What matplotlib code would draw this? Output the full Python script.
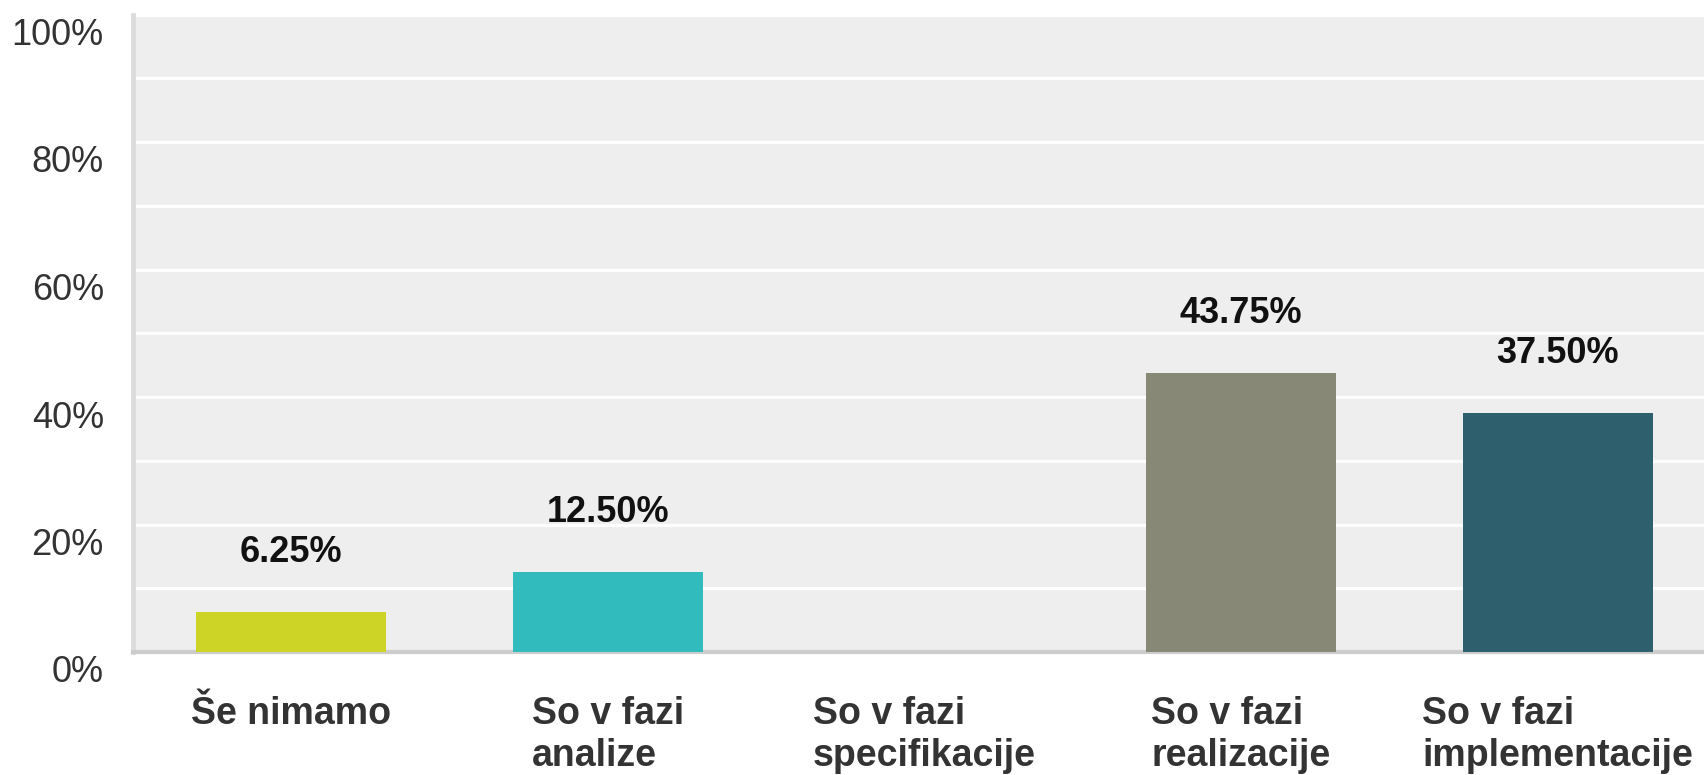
import matplotlib
matplotlib.use("Agg")
import matplotlib.pyplot as plt
from matplotlib.transforms import ScaledTranslation

categories = ["Še nimamo", "So v fazi\nanalize", "So v fazi\nspecifikacije",
              "So v fazi\nrealizacije", "So v fazi\nimplementacije"]
values = [6.25, 12.50, 0.0, 43.75, 37.50]
labels = ["6.25%", "12.50%", "", "43.75%", "37.50%"]
colors = ["#CED426", "#32BBBD", "#32BBBD", "#888877", "#2E5F6C"]
yticks = [0, 20, 40, 60, 80, 100]
ytick_labels = ["0%", "20%", "40%", "60%", "80%", "100%"]

plt.rcParams["font.family"] = ["Liberation Sans", "DejaVu Sans"]

W, H = 1704, 775
fig = plt.figure(figsize=(W / 100, H / 100), dpi=100)
# axes run past the right edge of the picture, like the reference
ax = fig.add_axes([133 / W, (H - 652) / H, (1716 - 133) / W, (652 - 14.5) / H])
ax.set_facecolor("#EEEEEE")

x = list(range(len(categories)))
bars = ax.bar(x, values, width=0.6, color=colors, zorder=3)
for b, lab in zip(bars, labels):
    if lab:
        ax.annotate(lab, (b.get_x() + b.get_width() / 2, b.get_height()),
                    xytext=(0, 43), textcoords="offset points", ha="center", va="center",
                    fontsize=26, fontweight="bold", color="#111111")

ax.set_xlim(-0.5, len(categories) - 0.5)
ax.set_ylim(0, 100)
ax.set_yticks(yticks)
ax.set_yticklabels(ytick_labels, fontsize=26, color="#333333")
ax.set_yticks(range(10, 100, 20), minor=True)
ax.grid(True, axis="y", which="both", color="white", linewidth=2.3, zorder=1)
ax.set_axisbelow(True)
ax.tick_params(axis="y", which="both", length=0, pad=21)
for t in ax.get_yticklabels():
    t.set_transform(t.get_transform() + ScaledTranslation(0, -17 / 100, fig.dpi_scale_trans))

ax.set_xticks(x)
ax.set_xticklabels(categories, fontsize=27, fontweight="bold", color="#333333",
                   ha="center", multialignment="left", va="top")
ax.tick_params(axis="x", length=0, pad=32)

for s in ["top", "right"]:
    ax.spines[s].set_visible(False)
ax.spines["left"].set_color("#DDDDDD")
ax.spines["left"].set_linewidth(3.5)
ax.spines["bottom"].set_color("#CCCCCC")
ax.spines["bottom"].set_linewidth(3)

fig.savefig("out.png", dpi=100)
